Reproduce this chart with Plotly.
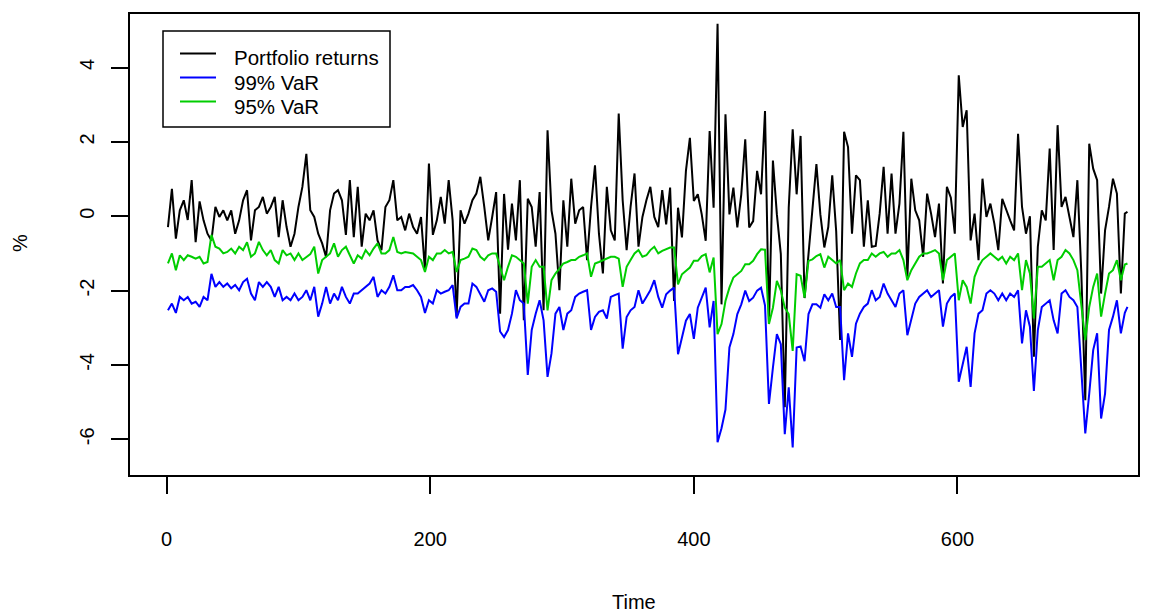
import plotly.graph_objects as go

# ---------------- data ----------------
time = list(range(1, 728, 3)) + [729]

returns = [
    # t = 1 .. 124
    -0.29, 0.74, -0.6, 0.16, 0.43, -0.1, 0.97, -0.7, 0.4, -0.11, -0.47, -0.65, 0.25, -0.02,
    0.16, -0.11, 0.16, -0.47, -0.11, 0.43, 0.7, -0.65, 0.16, 0.25, 0.52, 0.07, 0.25, 0.52,
    -0.56, 0.43, -0.29, -0.82, -0.47, 0.25, 0.79, 1.68, 0.16, -0.02, -0.47, -0.73, -1.1, 0.16,
    # t = 127 .. 247
    0.61, 0.7, 0.43, -0.5, 0.97, -0.56, 0.79, -0.82, 0.07, -0.11, 0.16, -0.65, -0.91, 0.25,
    0.43, 0.97, -0.11, -0.02, -0.38, 0.07, -0.29, -0.47, -0.02, -1.45, 1.42, -0.5, -0.11, 0.52,
    -0.2, 0.97, -0.11, -2.7, 0.16, -0.2, 0.07, 0.43, 0.61, 1.06, 0.25, -0.65, -0.02,
    # t = 250 .. 373
    0.65, -2.62, 0.6, -0.9, 0.34, -0.65, 0.97, -2.8, 0.47, 0.25, -0.82, 0.65, -2.53, 2.31,
    0.16, -0.47, -1.99, 0.43, -0.82, 1.01, -0.2, 0.16, 0.25, -1.18, 0.25, 1.37, -0.47, -1.54,
    0.79, -0.38, -0.65, 2.76, 0.43, -0.91, 0.25, 1.15, -0.82, -0.02, 0.43, 0.79, -0.02, -0.29,
    # t = 376 .. 499
    0.7, -0.22, 0.77, -2.28, 0.23, -0.57, 1.22, 2.11, 0.41, 0.59, 0.05, -0.66, 2.29, 0.23,
    5.18, -2.37, 2.74, 0.05, 0.77, -0.3, 0.59, 2.07, -0.3, -0.13, 1.22, 0.59, 2.83, -2.9,
    1.5, 0.05, -1.02, -5.14, 0.23, 2.34, 0.59, 2.16, -2.2, -1.02, 0.23, 1.4, 0.05, -0.84,
    # t = 502 .. 625
    -0.29, 1.1, -0.4, -3.33, 2.27, 1.86, -0.47, 1.1, 0.97, -0.82, 0.43, -0.82, -0.8, 0.07,
    1.33, -0.47, 1.15, -0.47, 0.34, 2.27, -1.63, 1.01, 0.16, -0.11, -1.09, 0.61, 0.07, -0.56,
    0.34, -1.81, 0.79, 0.5, -0.47, 3.79, 2.4, 2.85, -0.65, 0.07, -1.18, 1.01, -0.02, 0.34,
    # t = 628 .. 729
    -0.2, -0.91, 0.47, 0.16, -0.11, -0.38, 2.22, 0.25, -0.47, 0.0, -3.78, -0.82, 0.16, -0.11,
    1.82, -0.91, 2.45, 0.25, 0.52, -0.02, -0.56, 0.97, -1.54, -4.95, 1.95, 1.28, 0.97, -2.08,
    -0.38, 0.25, 1.01, 0.61, -2.08, 0.07, 0.12,
]

var99 = [
    # t = 1 .. 124
    -2.53, -2.35, -2.6, -2.17, -2.26, -2.17, -2.35, -2.3, -2.44, -2.17, -2.26, -1.55, -1.9, -1.77,
    -1.9, -1.81, -1.94, -1.85, -1.99, -1.77, -1.68, -2.08, -2.26, -1.77, -1.9, -1.77, -1.9, -2.17,
    -1.9, -2.26, -2.17, -2.26, -2.08, -2.26, -2.17, -1.99, -2.26, -1.9, -2.7, -2.35, -1.9, -2.35,
    # t = 127 .. 247
    -2.08, -2.26, -1.9, -2.17, -2.35, -2.08, -2.08, -1.99, -1.9, -1.81, -1.63, -2.17, -1.99, -2.08,
    -1.9, -1.59, -1.99, -1.99, -1.9, -1.9, -1.85, -1.99, -2.17, -2.6, -2.26, -2.35, -1.99, -2.08,
    -2.03, -1.99, -1.85, -2.75, -2.44, -2.35, -2.35, -1.81, -1.9, -2.08, -2.3, -1.99, -1.94,
    # t = 250 .. 373
    -2.03, -3.1, -3.25, -3.06, -2.62, -1.99, -2.26, -2.35, -4.27, -3.06, -2.62, -2.26, -2.8, -4.32,
    -3.69, -2.62, -2.44, -3.06, -2.62, -2.53, -2.17, -2.08, -2.03, -1.99, -3.06, -2.71, -2.57, -2.53,
    -2.75, -2.17, -2.12, -2.08, -3.56, -2.71, -2.53, -2.44, -1.99, -2.35, -2.17, -1.99, -1.72, -2.17,
    # t = 376 .. 499
    -2.46, -2.1, -2.0, -1.92, -3.71, -3.26, -2.81, -2.63, -3.3, -2.46, -2.19, -1.92, -2.99, -2.28,
    -6.08, -5.7, -5.2, -3.53, -3.17, -2.63, -2.37, -2.0, -2.28, -2.19, -2.0, -1.92, -2.4, -5.05,
    -4.07, -3.17, -3.44, -5.86, -4.6, -6.22, -3.53, -3.5, -3.9, -2.63, -2.37, -2.37, -2.46, -2.1,
    # t = 502 .. 625
    -2.26, -2.08, -2.44, -2.44, -4.41, -3.15, -3.78, -2.89, -2.62, -2.44, -2.35, -1.99, -2.26, -2.17,
    -1.81, -2.08, -2.26, -2.44, -2.08, -1.99, -3.2, -2.8, -2.35, -2.17, -2.08, -1.99, -2.17, -2.08,
    -1.99, -2.97, -2.35, -2.17, -2.08, -4.45, -3.96, -3.51, -4.59, -3.15, -2.62, -2.53, -2.08, -1.99,
    # t = 628 .. 729
    -2.08, -2.26, -2.08, -2.26, -2.08, -2.17, -1.99, -3.42, -2.53, -2.97, -4.7, -3.06, -2.44, -2.35,
    -2.26, -2.8, -3.15, -2.08, -1.99, -2.17, -2.26, -2.44, -4.05, -5.84, -4.77, -3.6, -3.15, -5.44,
    -4.77, -3.06, -2.7, -2.26, -3.15, -2.6, -2.44,
]

var95 = [
    # t = 1 .. 124
    -1.27, -1.0, -1.45, -1.05, -1.18, -1.05, -1.09, -1.14, -1.09, -1.27, -1.23, -0.5, -0.82, -0.87,
    -1.0, -0.96, -0.87, -1.0, -0.82, -0.91, -0.7, -1.09, -1.0, -0.69, -0.91, -1.05, -0.91, -1.18,
    -1.27, -0.91, -1.05, -1.0, -1.18, -1.0, -1.18, -1.09, -1.02, -0.82, -1.54, -1.18, -1.09, -1.0,
    # t = 127 .. 247
    -0.73, -1.09, -0.91, -0.82, -1.05, -1.27, -1.05, -1.14, -0.91, -1.05, -0.87, -0.73, -1.0, -1.0,
    -0.91, -0.56, -0.96, -1.0, -0.96, -0.99, -1.0, -1.09, -1.18, -1.5, -1.09, -1.18, -1.0, -1.0,
    -0.91, -1.0, -0.96, -1.5, -1.18, -1.14, -1.09, -0.87, -0.91, -1.09, -1.18, -1.05, -1.0,
    # t = 250 .. 373
    -1.0, -1.36, -1.72, -1.36, -1.05, -1.09, -1.18, -1.27, -2.35, -1.36, -1.18, -1.36, -1.36, -2.53,
    -1.72, -1.54, -1.41, -1.27, -1.23, -1.18, -1.18, -1.09, -1.05, -1.0, -1.63, -1.27, -1.23, -1.18,
    -1.14, -1.09, -1.09, -1.14, -1.9, -1.36, -1.18, -1.0, -0.91, -1.09, -1.05, -0.91, -0.82, -1.0,
    # t = 376 .. 499
    -0.93, -0.89, -0.84, -0.84, -1.83, -1.56, -1.47, -1.38, -1.2, -1.2, -1.07, -1.02, -1.51, -1.11,
    -3.17, -2.9, -2.28, -1.92, -1.65, -1.56, -1.47, -1.29, -1.29, -1.2, -1.02, -0.89, -0.9, -2.9,
    -2.46, -1.74, -2.0, -2.46, -2.63, -3.62, -1.56, -1.6, -2.19, -1.2, -1.16, -1.07, -1.02, -1.38,
    # t = 502 .. 625
    -1.09, -1.18, -1.27, -1.18, -1.99, -1.81, -1.9, -1.54, -1.27, -1.18, -1.18, -1.0, -1.09, -1.0,
    -0.96, -1.09, -1.0, -1.0, -0.91, -1.18, -1.72, -1.45, -1.27, -1.09, -1.0, -1.0, -0.96, -0.91,
    -1.0, -1.72, -1.18, -1.09, -1.0, -2.26, -1.72, -1.9, -2.35, -1.63, -1.36, -1.18, -1.09, -1.0,
    # t = 628 .. 729
    -1.09, -1.18, -1.09, -1.27, -1.09, -1.18, -1.0, -1.99, -1.18, -1.54, -2.75, -1.36, -1.36, -1.27,
    -1.18, -1.72, -1.18, -1.09, -0.91, -1.0, -1.18, -1.45, -2.44, -3.33, -2.44, -1.9, -1.54, -2.7,
    -2.08, -1.54, -1.45, -1.18, -1.72, -1.3, -1.27,
]

series_names = ["Portfolio returns", "99% VaR", "95% VaR"]
series_colors = ["#000000", "#0000FF", "#00CD00"]
x_ticks = [0, 200, 400, 600]
y_ticks = [-6, -4, -2, 0, 2, 4]

assert len(time) == len(returns) == len(var99) == len(var95), (
    len(time), len(returns), len(var99), len(var95))

# ---------------- figure ----------------
FONT = "Liberation Sans, Arial, Helvetica, sans-serif"
fig = go.Figure()
for name, ys, col in zip(series_names, [returns, var99, var95], series_colors):
    fig.add_trace(go.Scatter(x=time, y=ys, mode="lines", name=name,
                             line=dict(color=col, width=2), showlegend=False))

# plot area in pixels: x 130..1138, y 14..475
L, R, T, B = 130, 1138, 14, 475
W, H = R - L, B - T
def px(x):
    return (x - L) / W
def py(y):
    return (B - y) / H

axis_common = dict(showgrid=False, zeroline=False, showline=True, linecolor="black",
                   linewidth=1.5, mirror=True, ticks="outside", ticklen=17, tickwidth=1.5,
                   tickcolor="black", tickfont=dict(family=FONT, size=20, color="black"))
fig.update_xaxes(range=[-27.8, 737], tickmode="array", tickvals=x_ticks,
                 ticktext=[str(v) for v in x_ticks], ticklabelstandoff=28, **axis_common)
fig.update_yaxes(range=[-6.96, 5.44], tickmode="array", tickvals=y_ticks,
                 ticktext=[str(v) for v in y_ticks], tickangle=-90,
                 ticklabelstandoff=9, **axis_common)

shapes = [dict(type="rect", xref="paper", yref="paper", x0=px(163), x1=px(390),
               y0=py(127), y1=py(31), line=dict(color="black", width=1.5),
               fillcolor="white", layer="above")]
annotations = []
for i, (name, col) in enumerate(zip(series_names, series_colors)):
    ly = 53.5 + i * 24
    shapes.append(dict(type="line", xref="paper", yref="paper", x0=px(180), x1=px(216),
                       y0=py(ly), y1=py(ly), line=dict(color=col, width=2), layer="above"))
    annotations.append(dict(xref="paper", yref="paper", x=px(232), y=py(ly + 4.5),
                            xanchor="left", yanchor="middle", showarrow=False, text=name,
                            font=dict(family=FONT, size=20.5, color="black")))

annotations.append(dict(xref="paper", yref="paper", x=px(634), y=py(602), text="Time",
                        showarrow=False, xanchor="center", yanchor="middle",
                        font=dict(family=FONT, size=20, color="black")))
annotations.append(dict(xref="paper", yref="paper", x=px(20), y=py(243), text="%",
                        showarrow=False, textangle=-90, xanchor="center", yanchor="middle",
                        font=dict(family=FONT, size=20, color="black")))

fig.update_layout(width=1152, height=614, autosize=False,
                  margin=dict(l=L, r=1152 - R, t=T, b=614 - B),
                  paper_bgcolor="white", plot_bgcolor="white",
                  shapes=shapes, annotations=annotations, showlegend=False,
                  font=dict(family=FONT, size=20, color="black"))

fig.write_html("out.html")
